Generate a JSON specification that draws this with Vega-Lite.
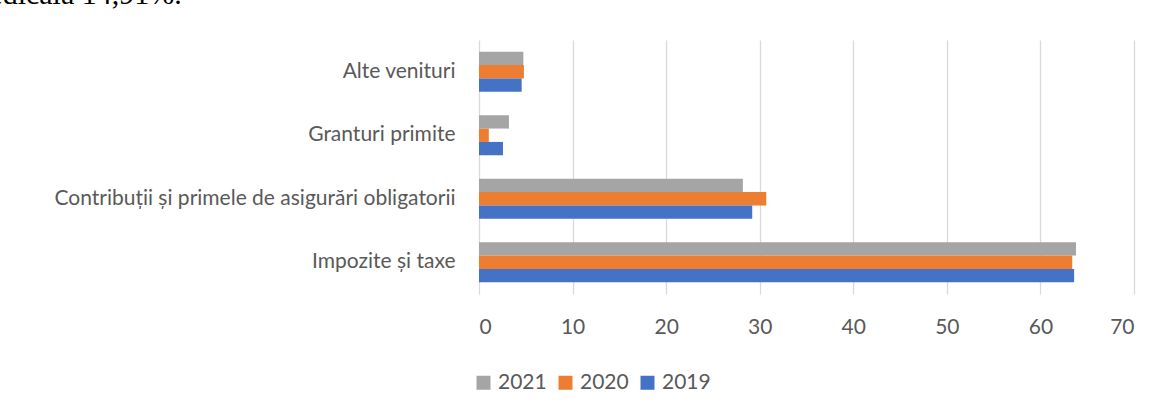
{
  "$schema": "https://vega.github.io/schema/vega-lite/v6.json",
  "width": 655,
  "height": 254,
  "autosize": {"type": "none"},
  "padding": {"left": 479, "top": 40, "right": 29, "bottom": 115},
  "background": "white",
  "title": {
    "text": "medicală 14,91%.",
    "anchor": "start",
    "frame": "group",
    "dx": -513,
    "offset": 6,
    "baseline": "alphabetic",
    "font": "Liberation Serif",
    "fontSize": 30,
    "fontWeight": "normal",
    "color": "black"
  },
  "data": {
    "values": [
      {"category": "Alte venituri", "year": "2021", "value": 4.74},
      {"category": "Alte venituri", "year": "2020", "value": 4.8},
      {"category": "Alte venituri", "year": "2019", "value": 4.56},
      {"category": "Granturi primite", "year": "2021", "value": 3.2},
      {"category": "Granturi primite", "year": "2020", "value": 1.05},
      {"category": "Granturi primite", "year": "2019", "value": 2.56},
      {"category": "Contribuții și primele de asigurări obligatorii", "year": "2021", "value": 28.2},
      {"category": "Contribuții și primele de asigurări obligatorii", "year": "2020", "value": 30.7},
      {"category": "Contribuții și primele de asigurări obligatorii", "year": "2019", "value": 29.2},
      {"category": "Impozite și taxe", "year": "2021", "value": 63.8},
      {"category": "Impozite și taxe", "year": "2020", "value": 63.4},
      {"category": "Impozite și taxe", "year": "2019", "value": 63.6}
    ]
  },
  "mark": {"type": "bar"},
  "encoding": {
    "y": {
      "field": "category",
      "type": "nominal",
      "sort": ["Alte venituri", "Granturi primite", "Contribuții și primele de asigurări obligatorii", "Impozite și taxe"],
      "scale": {"paddingInner": 0.37, "paddingOuter": 0.185},
      "axis": {
        "title": null,
        "domain": false,
        "ticks": false,
        "labelPadding": 24,
        "labelFont": "Lato",
        "labelFontSize": 21,
        "labelColor": "#595959",
        "labelLimit": 600
      }
    },
    "yOffset": {
      "field": "year",
      "type": "nominal",
      "sort": ["2021", "2020", "2019"],
      "scale": {"paddingInner": 0, "paddingOuter": 0}
    },
    "x": {
      "field": "value",
      "type": "quantitative",
      "scale": {"domain": [0, 70], "nice": false},
      "axis": {
        "title": null,
        "values": [0, 10, 20, 30, 40, 50, 60, 70],
        "domain": false,
        "ticks": false,
        "grid": true,
        "gridColor": "#d9d9d9",
        "gridWidth": 1.3,
        "labelPadding": 22,
        "labelFont": "Lato",
        "labelFontSize": 21,
        "labelColor": "#595959"
      }
    },
    "color": {
      "field": "year",
      "type": "nominal",
      "scale": {"domain": ["2021", "2020", "2019"], "range": ["#A5A5A5", "#ED7D31", "#4472C4"]},
      "legend": {
        "title": null,
        "orient": "none",
        "direction": "horizontal",
        "legendX": -6,
        "legendY": 332,
        "symbolType": "square",
        "symbolSize": 196,
        "symbolStrokeWidth": 0,
        "labelFont": "Lato",
        "labelFontSize": 21,
        "labelColor": "#595959",
        "labelOffset": 4,
        "columnPadding": 8
      }
    }
  },
  "config": {
    "view": {"stroke": null}
  }
}
